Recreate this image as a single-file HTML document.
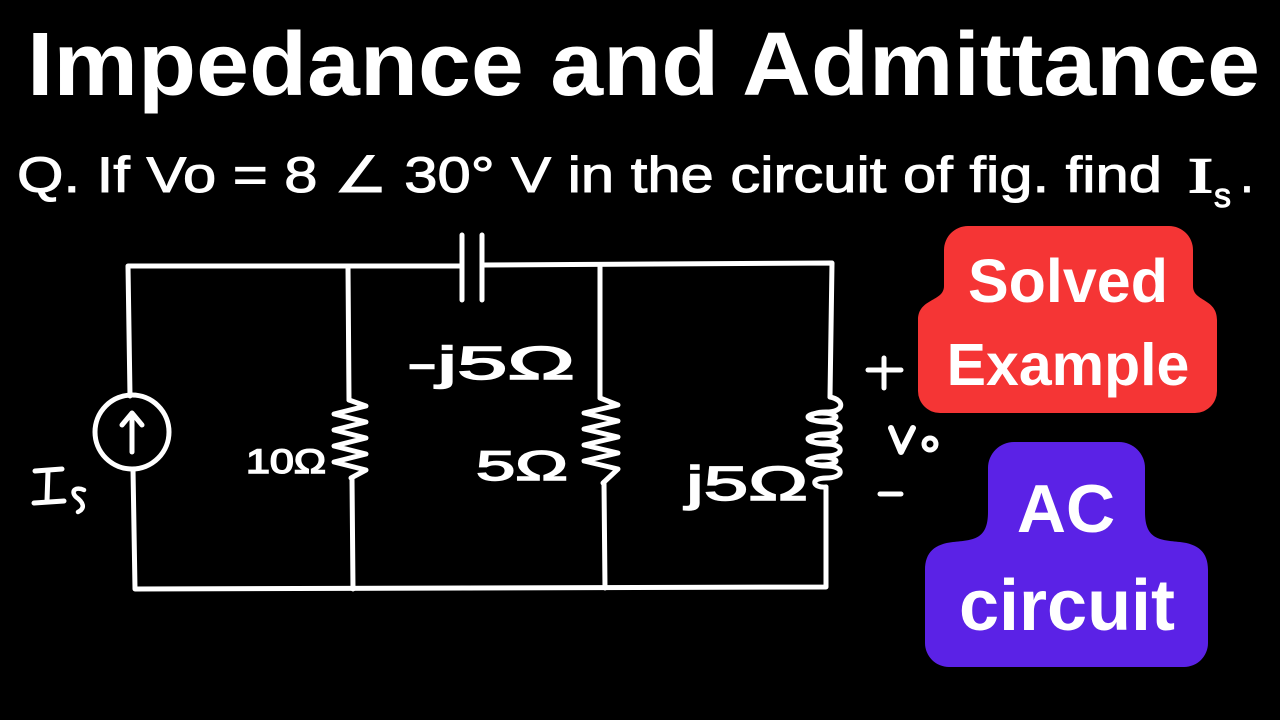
<!DOCTYPE html>
<html>
<head>
<meta charset="utf-8">
<style>
html,body{margin:0;padding:0;background:#000;}
body{width:1280px;height:720px;overflow:hidden;}
svg{display:block;}
</style>
</head>
<body>
<svg width="1280" height="720" viewBox="0 0 1280 720" xmlns="http://www.w3.org/2000/svg">
<rect width="1280" height="720" fill="#000"/>

<!-- Title -->
<text x="27" y="95" font-family="Liberation Sans, sans-serif" font-weight="bold" font-size="90" fill="#fff" textLength="1233" lengthAdjust="spacingAndGlyphs">Impedance and Admittance</text>

<!-- Question -->
<text x="17" y="192" font-family="Liberation Sans, sans-serif" font-size="50" fill="#fff" stroke="#fff" stroke-width="1" textLength="1145" lengthAdjust="spacingAndGlyphs">Q. If Vo = 8 ∠ 30° V in the circuit of fig. find</text>
<text x="1188" y="192" font-family="Liberation Serif, serif" font-size="50" fill="#fff" stroke="#fff" stroke-width="1.5" textLength="25" lengthAdjust="spacingAndGlyphs">I</text>
<text x="1214" y="207" font-family="Liberation Sans, sans-serif" font-size="34" fill="#fff" stroke="#fff" stroke-width="1">s</text>
<text x="1240" y="192" font-family="Liberation Sans, sans-serif" font-size="50" fill="#fff" stroke="#fff" stroke-width="1">.</text>

<!-- Circuit -->
<g stroke="#fff" stroke-width="5" fill="none" stroke-linecap="round" stroke-linejoin="round">
  <!-- top wires -->
  <polyline points="130,396 128,266 462,266"/>
  <polyline points="482,265 832,263 830,397"/>
  <!-- capacitor plates -->
  <line x1="462" y1="235" x2="462" y2="300"/>
  <line x1="482" y1="235" x2="482" y2="300"/>
  <!-- left source -->
  <circle cx="132" cy="432" r="37"/>
  <line x1="132" y1="452" x2="132" y2="414"/>
  <polyline points="122,425 132,413 142,425"/>
  <polyline points="133,469 135,589 826,587 826,487"/>
  <!-- R1 -->
  <line x1="348" y1="266" x2="349" y2="400"/>
  <polyline points="349,400 366,406 334,414 366,422 334,430 366,438 334,446 366,454 334,462 366,470 351,478"/>
  <line x1="352" y1="478" x2="353" y2="589"/>
  <!-- R2 -->
  <line x1="600" y1="265" x2="600" y2="398"/>
  <polyline points="600,398 618,405 584,413 618,421 584,429 618,437 584,445 618,453 584,461 618,469 603,483"/>
  <line x1="604" y1="483" x2="605" y2="588"/>
  <!-- inductor -->
  <path d="M830,397 C845,400 845,412 826,412 C806,412 806,422 826,422 C845,422 845,434 826,434 C806,434 806,444 826,444 C845,444 845,456 826,456 C806,456 806,466 826,466 C845,466 845,478 826,478 C810,478 812,488 826,487"/>
  <ellipse cx="822" cy="417" rx="14" ry="4"/>
  <ellipse cx="822" cy="439" rx="14" ry="4"/>
  <ellipse cx="822" cy="461" rx="14" ry="4"/>
  <!-- + and - -->
  <line x1="868" y1="370" x2="901" y2="370"/>
  <line x1="884" y1="358" x2="884" y2="388"/>
  <line x1="880" y1="494" x2="901" y2="494"/>
  <!-- Vo -->
  <polyline points="891,428 901,452 913,428" stroke-width="6"/>
  <circle cx="930" cy="444" r="6"/>
  <!-- Is label -->
  <line x1="35" y1="471" x2="62" y2="469"/>
  <line x1="48" y1="471" x2="47" y2="501"/>
  <line x1="34" y1="503" x2="64" y2="501"/>
  <path d="M84,490 C76,486 70,491 76,497 C83,502 86,508 78,512" stroke-width="4.5"/>
</g>

<!-- circuit labels -->
<g font-family="Liberation Sans, DejaVu Sans, sans-serif" fill="#fff" stroke="#fff" stroke-width="1.5">
  <text x="246" y="473" font-size="34" textLength="80" lengthAdjust="spacingAndGlyphs">10Ω</text>
  <text x="407" y="379" font-size="46" textLength="168" lengthAdjust="spacingAndGlyphs">-j5Ω</text>
  <text x="476" y="480" font-size="42" textLength="92" lengthAdjust="spacingAndGlyphs">5Ω</text>
  <text x="686" y="500" font-size="48" textLength="122" lengthAdjust="spacingAndGlyphs">j5Ω</text>
</g>

<!-- Red badge -->
<path fill="#F53535" d="M968,226 H1169 A24 24 0 0 1 1193,250 V286 C1193,302 1217,298 1217,320 V391 A22 22 0 0 1 1195,413 H940 A22 22 0 0 1 918,391 V320 C918,298 944,302 944,286 V250 A24 24 0 0 1 968,226 Z"/>
<text x="1068" y="302" text-anchor="middle" font-family="Liberation Sans, sans-serif" font-weight="bold" font-size="61" fill="#fff">Solved</text>
<text x="1068" y="385" text-anchor="middle" font-family="Liberation Sans, sans-serif" font-weight="bold" font-size="59" fill="#fff">Example</text>

<!-- Purple badge -->
<path fill="#5B22E6" d="M1014,442 H1119 A26 26 0 0 1 1145,468 V512 C1145,540 1160,540 1180,542 C1198,544 1208,552 1208,570 V643 A24 24 0 0 1 1184,667 H949 A24 24 0 0 1 925,643 V570 C925,552 935,544 953,542 C973,540 988,540 988,512 V468 A26 26 0 0 1 1014,442 Z"/>
<text x="1066" y="532" text-anchor="middle" font-family="Liberation Sans, sans-serif" font-weight="bold" font-size="68" fill="#fff">AC</text>
<text x="1067" y="630" text-anchor="middle" font-family="Liberation Sans, sans-serif" font-weight="bold" font-size="72" fill="#fff">circuit</text>
</svg>
</body>
</html>
